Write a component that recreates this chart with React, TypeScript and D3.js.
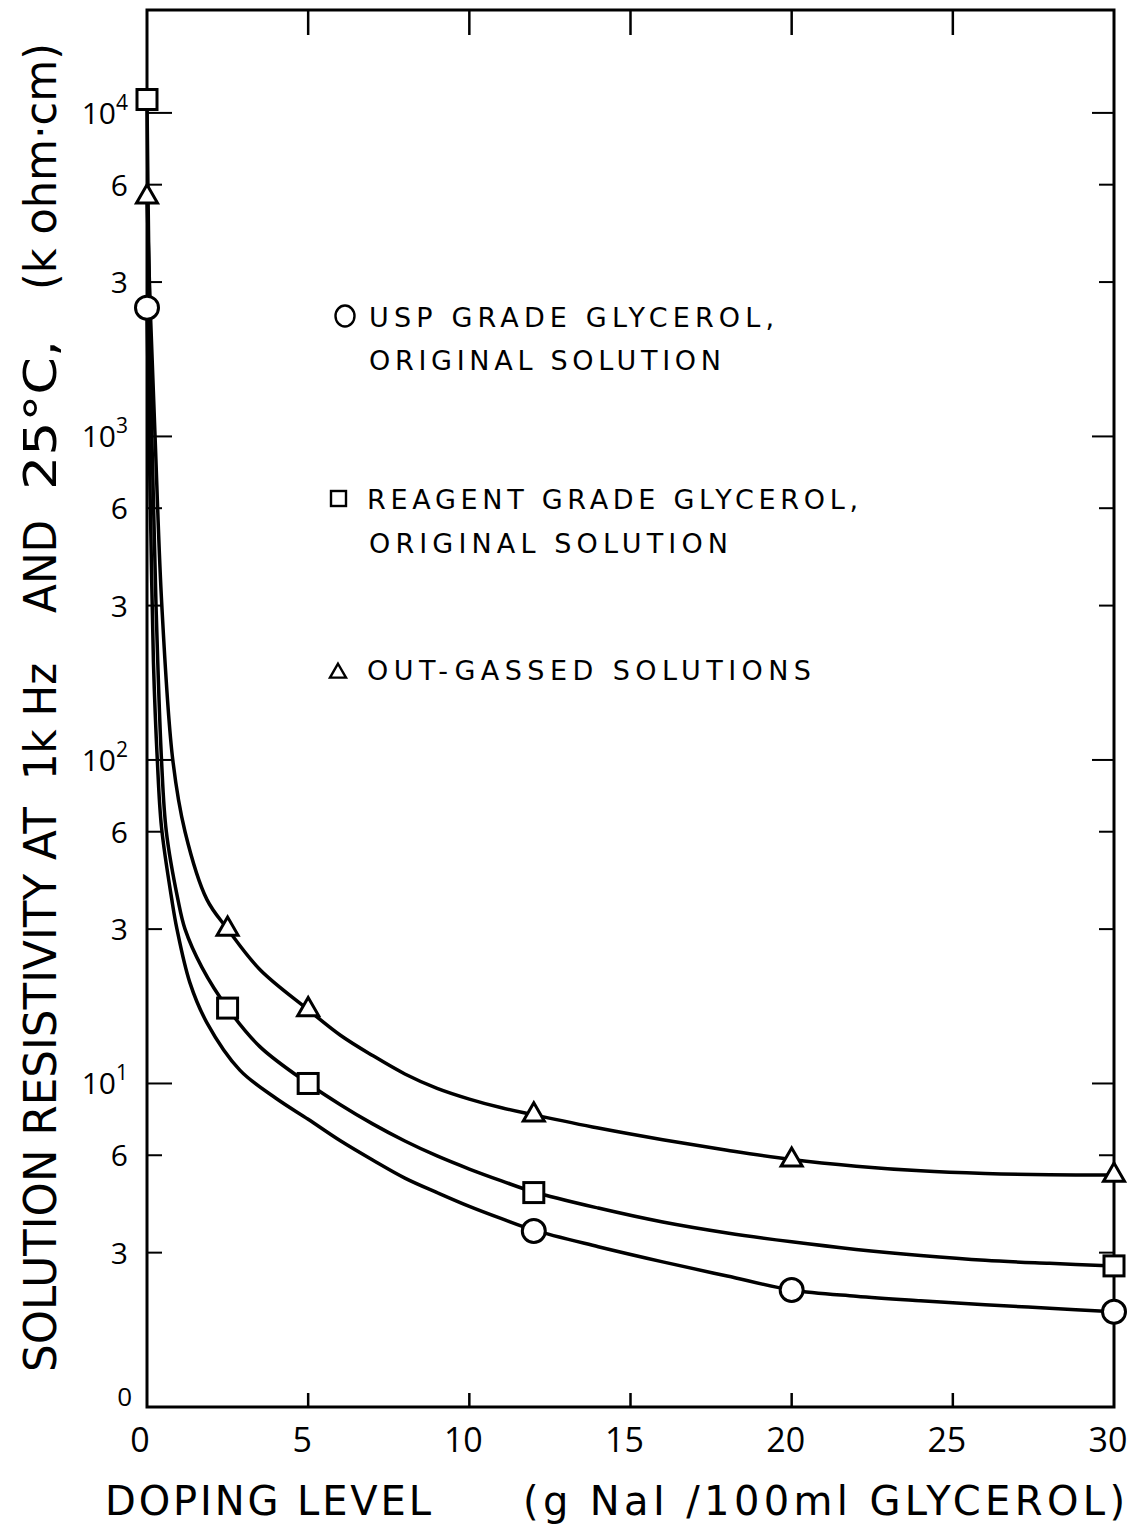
import React from 'react';
import * as d3 from 'd3';

const W = 1135;
const H = 1525;

// x axis (doping level, g NaI / 100 ml glycerol)
const xTickValues = [0, 5, 10, 15, 20, 25, 30];
const xTickLabels = ['0', '5', '10', '15', '20', '25', '30'];

// y axis (log)
const yMajorTicks = [1, 10, 100, 1000, 10000];
const yMajorExp = ['0', '1', '2', '3', '4'];
const yMinorTicks = [3, 6, 30, 60, 300, 600, 3000, 6000];
const yMinorLabels = ['3', '6', '3', '6', '3', '6', '3', '6'];

// measured points
const uspX = [0, 12, 20, 30];
const uspY = [2500, 3.5, 2.3, 1.97];
const reagX = [0, 2.5, 5, 12, 30];
const reagY = [11000, 17.1, 10, 4.6, 2.73];
const outX = [0, 2.5, 5, 12, 20, 30];
const outY = [5500, 30, 16.9, 8.0, 5.8, 5.21];

// hand-drawn fitted curves
const uspCurveX = [0, 0.05, 0.12, 0.2, 0.32, 0.45, 0.77, 0.93, 1.33, 1.86, 2.88, 4, 5, 6, 7, 8, 9, 10, 11, 12, 14, 16, 18, 20, 22, 24, 26, 28, 30];
const uspCurveY = [2500, 1200, 500, 200, 100, 62, 37, 30, 20.5, 15.4, 11, 9.0, 7.75, 6.65, 5.8, 5.1, 4.6, 4.17, 3.82, 3.52, 3.13, 2.81, 2.54, 2.3, 2.2, 2.13, 2.07, 2.02, 1.97];
const reagCurveX = [0, 0.05, 0.15, 0.28, 0.45, 0.6, 0.96, 1.18, 1.7, 2.5, 3.5, 5, 6, 7, 8, 9, 10, 11, 12, 14, 16, 18, 20, 22, 24, 26, 28, 30];
const reagCurveY = [11000, 4000, 1000, 300, 100, 60, 37, 30, 22.9, 17.1, 13, 10, 8.6, 7.5, 6.64, 5.97, 5.44, 5.0, 4.62, 4.12, 3.73, 3.45, 3.24, 3.07, 2.94, 2.84, 2.78, 2.73];
const outCurveX = [0, 0.1, 0.25, 0.46, 0.8, 1.18, 1.86, 2.5, 3.5, 5, 6, 7, 8, 9, 10, 11, 12, 14, 16, 18, 20, 22, 24, 26, 28, 30];
const outCurveY = [5500, 2500, 1000, 300, 100, 60, 37, 30, 22.5, 16.9, 14.1, 12.2, 10.7, 9.66, 8.95, 8.41, 8.0, 7.28, 6.7, 6.22, 5.82, 5.55, 5.37, 5.27, 5.22, 5.21];

// axis titles
const yTitleParts = ['SOLUTION RESISTIVITY AT', '1k Hz', 'AND', '25°C,', '(k ohm·cm)'];
const xTitleParts = ['DOPING  LEVEL', '(g  NaI  /100ml   GLYCEROL)'];

const FONT = "'DejaVu Sans', 'Open Sans', sans-serif";
const NUMFONT = "'Open Sans', 'DejaVu Sans', sans-serif";

export default function App() {
  const left = 147, right = 1114, top = 10, bottom = 1407;
  const x = d3.scaleLinear().domain([0, 30]).range([left, right]);
  const y = d3.scaleLog().domain([1, 20800]).range([bottom, top]);

  const line = d3
    .line<[number, number]>()
    .x((d) => x(d[0]))
    .y((d) => y(d[1]))
    .curve(d3.curveCatmullRom.alpha(0.5));

  const zip = (a: number[], b: number[]) => a.map((v, i) => [v, b[i]] as [number, number]);

  const curves = [
    zip(uspCurveX, uspCurveY),
    zip(reagCurveX, reagCurveY),
    zip(outCurveX, outCurveY),
  ];

  const triPath = (cx: number, cy: number, s: number) => {
    const h = (s * Math.sqrt(3)) / 2;
    return `M${cx},${cy - (2 * h) / 3} L${cx + s / 2},${cy + h / 3} L${cx - s / 2},${cy + h / 3} Z`;
  };

  const stroke = '#000';

  // positions (pixel spans) of the title pieces
  const ySpans = [
    [1372, 807],
    [780, 663],
    [613, 520],
    [490, 340],
    [290, 43],
  ];
  const xSpans = [
    [105, 431],
    [523, 1125],
  ];

  return (
    <svg
      width={W}
      height={H}
      viewBox={`0 0 ${W} ${H}`}
      style={{ position: 'absolute', left: 0, top: 0, background: '#fff' }}
      fontFamily={FONT}
    >
      <rect x={0} y={0} width={W} height={H} fill="#fff" />

      {/* frame */}
      <rect x={left} y={top} width={right - left} height={bottom - top} fill="none" stroke={stroke} strokeWidth={3} />

      {/* left & right ticks */}
      {yMajorTicks.map((t) => (
        <g key={'maj' + t}>
          <line x1={left} x2={left + 25} y1={y(t)} y2={y(t)} stroke={stroke} strokeWidth={2} />
          <line x1={right} x2={right - 22} y1={y(t)} y2={y(t)} stroke={stroke} strokeWidth={2} />
        </g>
      ))}
      {yMinorTicks.map((t) => (
        <g key={'min' + t}>
          <line x1={left} x2={left + 15} y1={y(t)} y2={y(t)} stroke={stroke} strokeWidth={2} />
          <line x1={right} x2={right - 15} y1={y(t)} y2={y(t)} stroke={stroke} strokeWidth={2} />
        </g>
      ))}

      {/* top & bottom ticks */}
      {xTickValues.slice(1, -1).map((t) => (
        <g key={'xt' + t}>
          <line x1={x(t)} x2={x(t)} y1={top} y2={top + 25} stroke={stroke} strokeWidth={2.5} />
          <line x1={x(t)} x2={x(t)} y1={bottom} y2={bottom - 14} stroke={stroke} strokeWidth={2.5} />
        </g>
      ))}

      {/* y tick labels */}
      <g fontFamily={NUMFONT} fill={stroke}>
        {yMajorTicks.map((t, i) =>
          i === 0 ? (
            <text key={'yl' + t} x={132} y={y(t) - 1} fontSize={26} textAnchor="end">
              {yMajorExp[i]}
            </text>
          ) : (
            <text key={'yl' + t} x={128} y={y(t) + 11} fontSize={30} textAnchor="end">
              10
              <tspan fontSize={21} dy={-14}>
                {yMajorExp[i]}
              </tspan>
            </text>
          )
        )}
        {yMinorTicks.map((t, i) => (
          <text key={'ym' + t} x={128} y={y(t) + 11} fontSize={30} textAnchor="end">
            {yMinorLabels[i]}
          </text>
        ))}

        {/* x tick labels */}
        {xTickValues.map((t, i) => (
          <text
            key={'xl' + t}
            x={i === 0 ? x(t) - 7 : x(t) - 6}
            y={1452}
            fontSize={34}
            textAnchor="middle"
          >
            {xTickLabels[i]}
          </text>
        ))}
      </g>

      {/* curves */}
      {curves.map((c, i) => (
        <path
          key={'c' + i}
          d={line(c) || ''}
          fill="none"
          stroke={stroke}
          strokeWidth={3.5}
          strokeLinejoin="round"
          strokeLinecap="round"
        />
      ))}

      {/* markers */}
      {uspX.map((v, i) => (
        <circle key={'u' + i} cx={x(v)} cy={y(uspY[i])} r={11.5} fill="#fff" stroke={stroke} strokeWidth={3} />
      ))}
      {reagX.map((v, i) => (
        <rect
          key={'r' + i}
          x={x(v) - 10}
          y={y(reagY[i]) - 10}
          width={20}
          height={20}
          fill="#fff"
          stroke={stroke}
          strokeWidth={3}
        />
      ))}
      {outX.map((v, i) => (
        <path key={'o' + i} d={triPath(x(v), y(outY[i]), 21)} fill="#fff" stroke={stroke} strokeWidth={3} strokeLinejoin="miter" />
      ))}

      {/* legend */}
      <g fill={stroke} fontSize={27}>
        <ellipse cx={345} cy={316} rx={9.5} ry={10.5} fill="none" stroke={stroke} strokeWidth={2.4} />
        <text x={369} y={327} textLength={405} lengthAdjust="spacing">USP  GRADE  GLYCEROL,</text>
        <text x={369} y={370} textLength={352} lengthAdjust="spacing">ORIGINAL  SOLUTION</text>

        <rect x={331} y={491} width={15} height={15} fill="none" stroke={stroke} strokeWidth={2.4} />
        <text x={367} y={509} textLength={491} lengthAdjust="spacing">REAGENT  GRADE  GLYCEROL,</text>
        <text x={369} y={553} textLength={359} lengthAdjust="spacing">ORIGINAL  SOLUTION</text>

        <path d={triPath(338, 673, 16)} fill="none" stroke={stroke} strokeWidth={2.4} />
        <text x={367} y={680} textLength={444} lengthAdjust="spacing">OUT-GASSED  SOLUTIONS</text>
      </g>

      {/* y axis title */}
      <g fill={stroke} fontSize={44}>
        {yTitleParts.map((t, i) => (
          <text
            key={'yt' + i}
            transform={`translate(56,${ySpans[i][0]}) rotate(-90)`}
            x={0}
            y={0}
            textLength={ySpans[i][0] - ySpans[i][1]}
            lengthAdjust="spacingAndGlyphs"
          >
            {t}
          </text>
        ))}
      </g>

      {/* x axis title */}
      <g fill={stroke} fontSize={40}>
        {xTitleParts.map((t, i) => (
          <text key={'xt2' + i} x={xSpans[i][0]} y={1515} textLength={xSpans[i][1] - xSpans[i][0]} lengthAdjust="spacing">
            {t}
          </text>
        ))}
      </g>
    </svg>
  );
}
